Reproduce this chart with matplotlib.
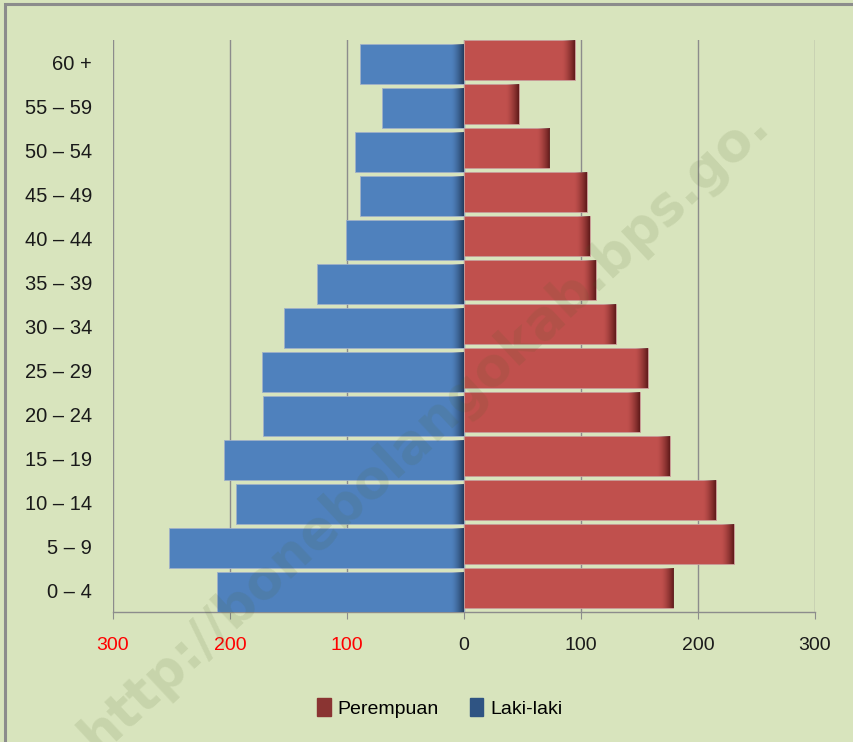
import numpy as np
import matplotlib
matplotlib.use("Agg")
import matplotlib.pyplot as plt
from matplotlib.patches import Patch, Rectangle

plt.rcParams['font.family'] = ['Liberation Sans Narrow', 'Liberation Sans', 'DejaVu Sans']

age_groups = ["0 – 4", "5 – 9", "10 – 14", "15 – 19", "20 – 24", "25 – 29", "30 – 34",
              "35 – 39", "40 – 44", "45 – 49", "50 – 54", "55 – 59", "60 +"]
laki_laki = [211, 252, 195, 205, 172, 173, 154, 126, 101, 89, 93, 70, 89]
perempuan = [179, 231, 215, 176, 150, 157, 130, 113, 108, 105, 73, 47, 95]
xtick_values = [-300, -200, -100, 0, 100, 200, 300]
xtick_labels = ["300", "200", "100", "0", "100", "200", "300"]
xtick_colors = ["#ff0000", "#ff0000", "#ff0000", "#1a1a1a", "#1a1a1a", "#1a1a1a", "#1a1a1a"]

BG = "#d8e4bd"
BLUE = "#4f81bd"
RED = "#c0504d"

fig = plt.figure(figsize=(8.54, 7.42), dpi=100, facecolor=BG)
ax = fig.add_axes([113/854, 1-612/742, (815-113)/854, (612-40)/742])
ax.set_facecolor(BG)

y = np.arange(len(age_groups))
h = 0.9
blue_bars = ax.barh(y - 0.045, [-v for v in laki_laki], height=h, color=BLUE,
                    edgecolor="#9fb0c8", linewidth=0.6, zorder=3)
red_bars = ax.barh(y + 0.045, perempuan, height=h, color=RED,
                   edgecolor="#c89c9a", linewidth=0.6, zorder=3)

ax.set_xlim(-300, 300)
ax.set_ylim(-0.5, len(age_groups) - 0.5)

# dark shading band at the right end of each bar
def shade(bars, dark):
    grad = np.zeros((1, 64, 4))
    grad[..., 0:3] = dark
    t = np.linspace(0, 1, 64)
    grad[0, :, 3] = 0.9 * t ** 1.5
    band = 11.0
    for b in bars:
        x0, x1 = b.get_x(), b.get_x() + b.get_width()
        hi = max(x0, x1)
        yb, yt = b.get_y(), b.get_y() + b.get_height()
        im = ax.imshow(grad, extent=(hi - band, hi, yb, yt), aspect='auto',
                       zorder=4, interpolation='bilinear')
        im.set_clip_path(b)

shade(blue_bars, (0.12, 0.2, 0.32))
shade(red_bars, (0.33, 0.08, 0.08))
ax.set_xlim(-300, 300)
ax.set_ylim(-0.5, len(age_groups) - 0.5)

ax.set_xticks(xtick_values)
ax.set_xticklabels(xtick_labels, fontsize=14)
for lbl, c in zip(ax.get_xticklabels(), xtick_colors):
    lbl.set_color(c)
ax.tick_params(axis='x', direction='out', length=5, color="#8c8c8c", pad=13)
ax.set_yticks(y)
ax.set_yticklabels(age_groups, fontsize=14.5, color="#1a1a1a")
ax.tick_params(axis='y', length=0, pad=15)

ax.grid(axis='x', color="#8c8c8c", linewidth=1.0, zorder=0)
ax.set_axisbelow(True)
for s in ["top", "right", "left"]:
    ax.spines[s].set_visible(False)
ax.spines["bottom"].set_color("#8c8c8c")
ax.spines["bottom"].set_linewidth(1.0)

handles = [Patch(facecolor="#8a3432", edgecolor="#8a3432"),
           Patch(facecolor="#2f5483", edgecolor="#2f5483")]
fig.legend(handles, ["Perempuan", "Laki-laki"], loc="center", ncol=2,
           bbox_to_anchor=(0.515, 1-708/742), frameon=False, fontsize=14,
           handlelength=0.7, handleheight=1.0, handletextpad=0.35, columnspacing=1.6)

# watermark
fig.text(425/854, 1-430/742, "http://bonebolangokab.bps.go.", rotation=43,
         rotation_mode='anchor', ha='center', va='center', fontsize=38,
         fontweight='bold', family=['DejaVu Sans'], color=(0.3, 0.38, 0.15), alpha=0.12,
         zorder=10)

# outer frame
fig.patches.append(Rectangle((5/854, -0.05), 1.2, (1-3.5/742) + 0.05, transform=fig.transFigure,
                             fill=False, edgecolor="#8c8c8c", linewidth=2.2, zorder=20))

fig.savefig("out.png", dpi=100, facecolor=BG)
